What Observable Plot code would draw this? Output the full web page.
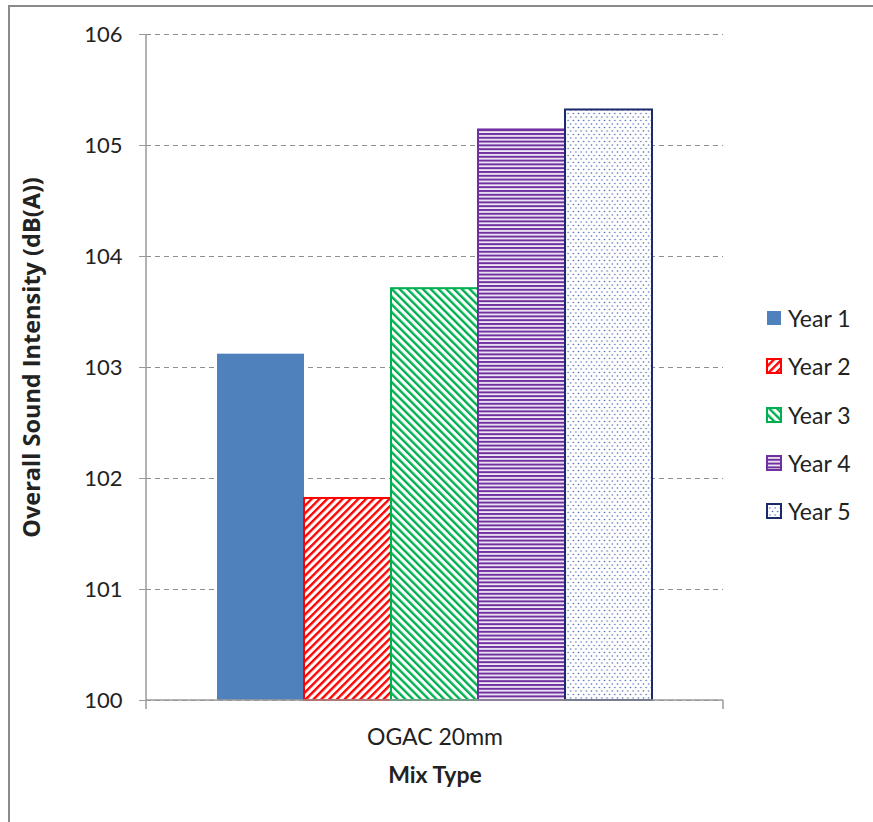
<!DOCTYPE html>
<html>
<head>
<meta charset="utf-8">
<script src="https://cdn.jsdelivr.net/npm/d3@7"></script>
<script src="https://cdn.jsdelivr.net/npm/@observablehq/plot@0.6"></script>
<style>
  html, body { margin: 0; padding: 0; background: #fff; }
  body { width: 873px; height: 822px; overflow: hidden; position: relative; font-family: Lato, "Open Sans", sans-serif; }
  #frame { position: absolute; left: 8px; top: 5px; width: 900px; height: 900px; border: 2px solid #8a8a8a; box-sizing: border-box; }
  #chart { position: absolute; left: 0; top: 0; }
  #legend { position: absolute; left: 766px; top: 294px; font-size: 23px; color: #222; }
  #legend .row { display: flex; align-items: center; height: 48.3px; }
  #legend svg { margin-right: 6px; }
</style>
</head>
<body>
<svg width="0" height="0" style="position:absolute">
  <defs>
    <pattern id="pat-y2" patternUnits="userSpaceOnUse" width="5.5" height="5.5" patternTransform="rotate(45)">
      <rect width="5.5" height="5.5" fill="#fff"></rect>
      <line x1="1.2" y1="0" x2="1.2" y2="5.5" stroke="#FF0000" stroke-width="2.4"></line>
    </pattern>
    <pattern id="pat-y3" patternUnits="userSpaceOnUse" width="5.5" height="5.5" patternTransform="rotate(-45)">
      <rect width="5.5" height="5.5" fill="#fff"></rect>
      <line x1="1.2" y1="0" x2="1.2" y2="5.5" stroke="#00B050" stroke-width="2.4"></line>
    </pattern>
    <pattern id="pat-y4" patternUnits="userSpaceOnUse" width="8" height="3.8">
      <rect width="8" height="3.8" fill="#f1eaf6"></rect>
      <line x1="0" y1="1" x2="8" y2="1" stroke="#7030A0" stroke-width="2"></line>
    </pattern>
    <pattern id="pat-y5" patternUnits="userSpaceOnUse" width="5.2" height="7">
      <rect width="5.2" height="7" fill="#fff"></rect>
      <circle cx="1.3" cy="1.5" r="0.8" fill="#4f6bb5"></circle>
      <circle cx="3.9" cy="5" r="0.8" fill="#4f6bb5"></circle>
    </pattern>
  </defs>
</svg>
<div id="frame"></div>
<div id="chart"></div>
<div id="legend"></div>
<script>
// ---- data ----
const mixTypes = ["OGAC 20mm"];
const years = ["Year 1", "Year 2", "Year 3", "Year 4", "Year 5"];
const values = [103.12, 101.82, 103.71, 105.14, 105.32];
const yTicks = [100, 101, 102, 103, 104, 105, 106];

// ---- styles ----
const fills = {"Year 1": "#4F81BD", "Year 2": "url(#pat-y2)", "Year 3": "url(#pat-y3)", "Year 4": "url(#pat-y4)", "Year 5": "url(#pat-y5)"};
const strokes = {"Year 1": "#4F81BD", "Year 2": "#FF0000", "Year 3": "#00B050", "Year 4": "#7030A0", "Year 5": "#1c2a6b"};
const strokeW = {"Year 1": 0, "Year 2": 2, "Year 3": 2, "Year 4": 2, "Year 5": 2};

const table = years.map((y, i) => ({mix: mixTypes[0], year: y, value: values[i]}));

const axisColor = "#9a9a9a";

// decoration: y axis line and end ticks of category axis
function axisLines(index, scales, values, dim) {
  const g = d3.create("svg:g");
  const x0 = dim.marginLeft, x1 = dim.width - dim.marginRight;
  const yb = dim.height - dim.marginBottom, yt = dim.marginTop;
  g.append("line").attr("x1", x0).attr("x2", x0).attr("y1", yt).attr("y2", yb + 9).attr("stroke", axisColor).attr("stroke-width", 1.5);
  g.append("line").attr("x1", x0).attr("x2", x1).attr("y1", yb).attr("y2", yb).attr("stroke", axisColor).attr("stroke-width", 1.5);
  g.append("line").attr("x1", x1).attr("x2", x1).attr("y1", yb).attr("y2", yb + 9).attr("stroke", axisColor).attr("stroke-width", 1.5);
  return g.node();
}

const plot = Plot.plot({
  width: 873,
  height: 822,
  marginLeft: 146,
  marginRight: 150,
  marginTop: 34,
  marginBottom: 122,
  style: {fontFamily: "Lato, 'Open Sans', sans-serif", fontSize: "22px", color: "#222", background: "transparent"},
  fx: {domain: mixTypes, padding: 0, label: null},
  x: {domain: years, paddingInner: 0, paddingOuter: 0.78, axis: null},
  y: {domain: [100, 106], label: null},
  color: {type: "identity"},
  marks: [
    Plot.gridY(yTicks, {stroke: "#8f8f8f", strokeOpacity: 1, strokeDasharray: "5,4", strokeWidth: 1.2}),
    Plot.barY(table, {
      fx: "mix", x: "year", y1: 100, y2: "value",
      fill: d => fills[d.year],
      stroke: d => strokes[d.year],
      strokeWidth: d => strokeW[d.year],
      inset: 0
    }),
    Plot.axisY(yTicks, {tickSize: 7, tickPadding: 17, stroke: axisColor, fontSize: 22, tickFormat: "d", label: null}),
    Plot.axisFx({anchor: "bottom", tickSize: 0, tickPadding: 28, fontSize: 23, label: null}),
    Plot.text(["Overall Sound Intensity (dB(A))"], {frameAnchor: "left", textAnchor: "middle", dx: -114, dy: -10, rotate: -90, fontWeight: "bold", fontSize: 23.5, fontFamily: "'Open Sans', Lato, sans-serif", text: d => d}),
    Plot.text(["Mix Type"], {frameAnchor: "bottom", dy: 82, fontWeight: "bold", fontSize: 23, text: d => d}),
    axisLines
  ]
});
document.getElementById("chart").appendChild(plot);

// legend
const legend = document.getElementById("legend");
years.forEach(y => {
  const row = document.createElement("div");
  row.className = "row";
  const sw = d3.create("svg").attr("width", 16).attr("height", 16);
  sw.append("rect").attr("x", 1).attr("y", 1).attr("width", 14).attr("height", 14)
    .attr("fill", fills[y]).attr("stroke", strokes[y]).attr("stroke-width", strokeW[y] || 0);
  row.appendChild(sw.node());
  const t = document.createElement("span");
  t.textContent = y;
  row.appendChild(t);
  legend.appendChild(row);
});
</script>
</body>
</html>
